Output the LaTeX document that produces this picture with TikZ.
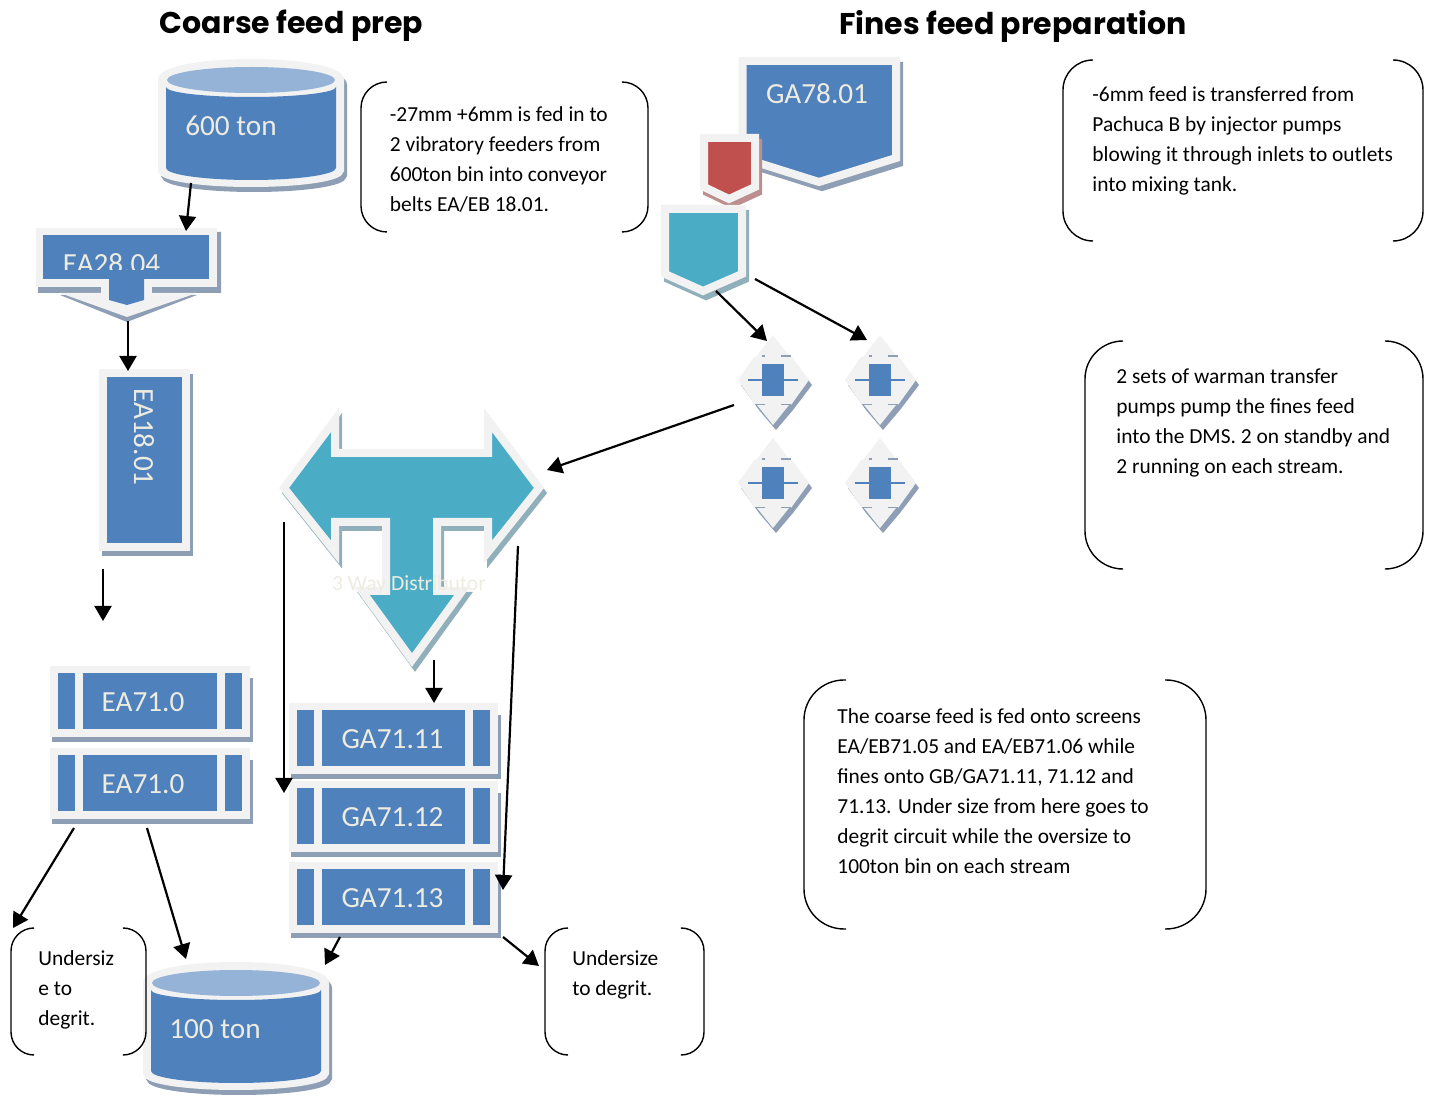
\documentclass[tikz,border=0pt]{standalone}
\usepackage{fontspec}
\setmainfont{Carlito}
\newfontfamily\titlefont{Poppins}
\usetikzlibrary{arrows.meta}

\definecolor{plateblue}{HTML}{4F81BD}
\definecolor{platetop}{HTML}{95B3D7}
\definecolor{plateteal}{HTML}{4BACC6}
\definecolor{platered}{HTML}{C0504D}
\definecolor{plateedge}{HTML}{F2F2F2}
\definecolor{labelcream}{HTML}{EEECE1}
\definecolor{shadeblue}{HTML}{8E9FB5}
\definecolor{shadeteal}{HTML}{8FAFBA}
\definecolor{shadered}{HTML}{BC8E8E}

\tikzset{
    plate/.style 2 args={fill=#1, draw=plateedge, line width=4pt, miter limit=25,
        preaction={draw=#2, fill=#2, line width=4pt, miter limit=25, transform canvas={xshift=1.5pt,yshift=-2.5pt}}},
    platelabel/.style={text=labelcream, font=\fontsize{14.6}{14.6}\selectfont, inner sep=0pt},
    flow/.style={-{Triangle[length=7.5pt,width=8.5pt]}, line width=1.1pt},
    bracket/.style={line width=0.7pt, rounded corners=#1},
    note/.style={anchor=north west, align=left, inner sep=0pt, font=\fontsize{10.7}{15}\selectfont},
    heading/.style={font=\titlefont\bfseries\fontsize{15}{16}\selectfont, inner sep=0pt}
}

\begin{document}
\begin{tikzpicture}[x=0.5pt,y=-0.5pt]
    \useasboundingbox (0,0) rectangle (1432,1096);

    \node[heading] (coarsetitle) at (291.5,26) {Coarse feed prep};
    \node[heading] (finestitle) at (1013,26) {Fines feed preparation};

    % bins
    \foreach \binname/\bx/\by/\lx/\binlabel in {binsix/251/80/-20/600 ton, binone/236/983/-21/100 ton} {
        \begin{scope}[shift={(\bx,\by)}]
            \draw[plate={plateedge}{shadeblue}] (-89,0) arc[start angle=180,end angle=360,x radius=89,y radius=17]
                -- (89,90) arc[start angle=0,end angle=180,x radius=89,y radius=13] -- cycle;
            \fill[plateblue] (-85,7) arc[start angle=180,end angle=0,x radius=85,y radius=10]
                -- (85,88) arc[start angle=0,end angle=180,x radius=85,y radius=12] -- cycle;
            \fill[platetop] (0,0) ellipse[x radius=84,y radius=13];
            \node[platelabel] (\binname) at (\lx,46) {\binlabel};
        \end{scope}
    }

    % belt with its chevron
    \fill[shadeblue] (38,285) -- (217,285) -- (217,232) -- (221,232) -- (221,293) -- (38,293) -- cycle;
    \fill[shadeblue] (60,295) -- (197,295) -- (127,322) -- cycle;
    \fill[plateedge] (60,293) -- (197,293) -- (127,317) -- cycle;
    \fill[plateedge] (36,228) rectangle (217,287);
    \fill[plateedge] (101,285) rectangle (152,294);
    \fill[plateblue] (43,235) rectangle (209,279);
    \fill[plateblue] (109,279) -- (144,279) -- (144,300) -- (127,305) -- (109,300) -- cycle;
    \begin{scope}
        \clip (43,235) rectangle (209,269.5);
        \node[platelabel] (beltfeed) at (111.5,264) {EA28.04};
    \end{scope}

    % conveyor
    \draw[plate={plateblue}{shadeblue}] (103,373) rectangle (186,547);
    \node[platelabel,rotate=-90] (conveyor) at (144,437) {EA18.01};

    % screens
    \foreach \screenname/\bl/\by/\bw/\lx/\screenlabel in {
        screena/58/673/184/143/EA71.0, screenb/58/755/184/143/EA71.0,
        screenc/297/710/193/392.5/GA71.11, screend/297/788/193/392.5/GA71.12, screene/297/869/193/392.5/GA71.13} {
        \fill[shadeblue] ({\bl-6},{\by+5}) rectangle ({\bl+\bw+11},{\by+69});
        \fill[plateedge] ({\bl-8},{\by-7}) rectangle ({\bl+\bw+8},{\by+64});
        \fill[plateblue] (\bl,\by) rectangle ({\bl+17},{\by+56});
        \fill[plateblue] ({\bl+25},\by) rectangle ({\bl+\bw-25},{\by+56});
        \fill[plateblue] ({\bl+\bw-17},\by) rectangle ({\bl+\bw},{\by+56});
        \node[platelabel] (\screenname) at (\lx,{\by+29}) {\screenlabel};
    }

    % pump boxes
    \draw[plate={plateblue}{shadeblue}] (742.5,61) -- (896,61) -- (896,158) -- (819,182) -- (742.5,158) -- cycle;
    \node[platelabel] (pumpbox) at (817,94) {GA78.01};
    \draw[plate={platered}{shadered}] (704,138) -- (755,138) -- (755,187) -- (729,199) -- (704,187) -- cycle;
    \draw[plate={plateteal}{shadeteal}] (665,209) -- (742,209) -- (742,274) -- (703,291) -- (665,274) -- cycle;

    % transfer pumps
    \foreach \pumpname/\px/\py in {pumpa/773/380, pumpb/880/380, pumpc/773/483, pumpd/880/483} {
        \begin{scope}[shift={(\px,\py)}]
            \fill[shadeblue,shift={(3,5)}] (-35,0) -- (-17,25) -- (0,45) -- (17,25) -- (36,0) -- (19,-23) -- (-19,-23) -- cycle;
            \fill[plateedge] (0,-45) -- (-17,-23) -- (-19,-23) -- (-35,0) -- (-18,25) -- (-16,25) -- (0,45)
                -- (16,25) -- (18,25) -- (36,0) -- (19,-23) -- (17,-23) -- cycle;
            \draw[shadeblue,line width=0.6pt] (-11,-24) -- (-8,-24) (8,-24) -- (18,-24) (-18,24.5) -- (-8,24.5) (8,24.5) -- (18,24.5);
            \draw[plateblue,line width=0.8pt] (-25,0) -- (25,0);
            \fill[plateblue] (-11,-16) rectangle (11,16);
            \coordinate (\pumpname) at (0,0);
        \end{scope}
    }

    % distributor
    \draw[plate={plateteal}{shadeteal}] (284,488) -- (335,420) -- (335,453) -- (488,453) -- (488,420) -- (539,488)
        -- (488,552) -- (488,522) -- (437,522) -- (437,591) -- (462,591) -- (412,660) -- (362,591) -- (386,591)
        -- (386,522) -- (335,522) -- (335,552) -- cycle;
    \node[text=labelcream,inner sep=0pt,font=\fontsize{10.8}{12}\selectfont] (distributor) at (409,585) {3 Way Distributor};

    % notes
    \draw[bracket=13pt] (387,82) -- (361,82) -- (361,232) -- (387,232);
    \draw[bracket=13pt] (623,82) -- (648,82) -- (648,232) -- (623,232);
    \node[note] (noteone) at (389.5,106) {-27mm +6mm is fed in to\\2 vibratory feeders from\\600ton bin into conveyor\\belts EA/EB 18.01.};

    \draw[bracket=15pt] (1093,60) -- (1063,60) -- (1063,241) -- (1093,241);
    \draw[bracket=15pt] (1393,60) -- (1423,60) -- (1423,241) -- (1393,241);
    \node[note] (notetwo) at (1092,86) {-6mm feed is transferred from\\Pachuca B by injector pumps\\blowing it through inlets to outlets\\into mixing tank.};

    \draw[bracket=19pt] (1123,341) -- (1085,341) -- (1085,569) -- (1123,569);
    \draw[bracket=19pt] (1386,341) -- (1423,341) -- (1423,569) -- (1386,569);
    \node[note] (notethree) at (1116,368) {2 sets of warman transfer\\pumps pump the fines feed\\into the DMS. 2 on standby and\\2 running on each stream.};

    \draw[bracket=20pt] (846,680) -- (804,680) -- (804,929) -- (846,929);
    \draw[bracket=20pt] (1165,680) -- (1206,680) -- (1206,929) -- (1165,929);
    \node[note] (notefour) at (837,708) {The coarse feed is fed onto screens\\EA/EB71.05 and EA/EB71.06 while\\fines onto GB/GA71.11, 71.12 and\\71.13. Under size from here goes to\\degrit circuit while the oversize to\\100ton bin on each stream};

    \draw[bracket=11.5pt] (34,928) -- (11,928) -- (11,1055) -- (34,1055);
    \draw[bracket=11.5pt] (124,928) -- (146,928) -- (146,1055) -- (124,1055);
    \node[note] (notefive) at (38,950) {Undersiz\\e to\\degrit.};

    \draw[bracket=11.5pt] (568,928) -- (545,928) -- (545,1055) -- (568,1055);
    \draw[bracket=11.5pt] (682,928) -- (704,928) -- (704,1055) -- (682,1055);
    \node[note] (notesix) at (572,950) {Undersize\\to degrit.};

    % connector ends
    \coordinate (binsixout) at (191,183);
    \coordinate (beltin) at (186,231);
    \coordinate (beltout) at (128,321);
    \coordinate (conveyorin) at (128,371);
    \coordinate (conveyorout) at (103,569);
    \coordinate (screenain) at (103,621);
    \coordinate (tealout) at (716,291);
    \coordinate (pumpain) at (767,341);
    \coordinate (tealright) at (755,279);
    \coordinate (pumpbin) at (867,340);
    \coordinate (pumpout) at (734,405);
    \coordinate (distin) at (547,470);
    \coordinate (distleft) at (284,522);
    \coordinate (screendin) at (284,793);
    \coordinate (distright) at (518,546);
    \coordinate (screenein) at (503,890);
    \coordinate (distdown) at (434,660);
    \coordinate (screencin) at (434,703);
    \coordinate (screenbleft) at (74,828);
    \coordinate (notefivein) at (13,928);
    \coordinate (screenbright) at (147,828);
    \coordinate (binonein) at (186,959);
    \coordinate (screeneleft) at (340,937);
    \coordinate (binonetop) at (325,965);
    \coordinate (screeneright) at (503,937);
    \coordinate (notesixin) at (539,966);

    \draw[flow] (binsixout) -- (beltin);
    \draw[flow] (beltout) -- (conveyorin);
    \draw[flow] (conveyorout) -- (screenain);
    \draw[flow] (tealout) -- (pumpain);
    \draw[flow] (tealright) -- (pumpbin);
    \draw[flow] (pumpout) -- (distin);
    \draw[flow] (distleft) -- (screendin);
    \draw[flow] (distright) -- (screenein);
    \draw[flow] (distdown) -- (screencin);
    \draw[flow] (screenbleft) -- (notefivein);
    \draw[flow] (screenbright) -- (binonein);
    \draw[flow] (screeneleft) -- (binonetop);
    \draw[flow] (screeneright) -- (notesixin);
\end{tikzpicture}
\end{document}
